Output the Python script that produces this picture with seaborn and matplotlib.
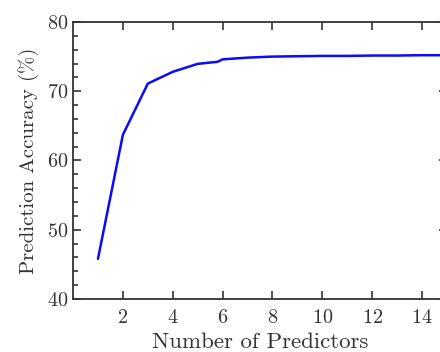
import matplotlib
matplotlib.use("Agg")
import matplotlib.pyplot as plt
import numpy as np
import pandas as pd
import seaborn as sns
from matplotlib.ticker import MultipleLocator

# 데이터
n_predictors = [1, 2, 3, 4, 5, 5.8, 6, 7, 8, 9, 10, 11, 12, 13, 14, 15]
accuracy = [45.8, 63.7, 71.1, 72.8, 73.95, 74.25, 74.6, 74.85, 75.0, 75.05,
            75.1, 75.1, 75.15, 75.15, 75.2, 75.2]

df = pd.DataFrame({"n": n_predictors, "acc": accuracy})

sns.set_style("ticks")
plt.rcParams["font.family"] = ["cmr10", "DejaVu Serif"]
plt.rcParams["mathtext.fontset"] = "cm"
plt.rcParams["axes.formatter.use_mathtext"] = True

fig = plt.figure(figsize=(4.4, 3.52), dpi=100)
# 오른쪽은 원본처럼 잘려 보이도록 figure 밖으로 확장
ax = fig.add_axes([0.166, 0.1506, 0.8495, 0.787])

sns.lineplot(data=df, x="n", y="acc", ax=ax, color="#0a0aff", linewidth=1.8)

ax.set_xlim(0, 15)
ax.set_ylim(40, 80)
ax.set_xticks([2, 4, 6, 8, 10, 12, 14])
ax.yaxis.set_major_locator(MultipleLocator(10))
ax.yaxis.set_minor_locator(MultipleLocator(2))

for s in ax.spines.values():
    s.set_color("#333333")
    s.set_linewidth(1.3)
ax.tick_params(which="both", direction="in", top=True, right=True,
               color="#333333", width=1.2)
ax.tick_params(which="major", length=6, labelsize=14.5, labelcolor="#333333")
ax.tick_params(axis="x", which="major", pad=7)
ax.tick_params(which="minor", length=3.5)

ax.set_xlabel("Number of Predictors", fontsize=16.5, color="#333333", labelpad=4)
ax.set_ylabel("Prediction Accuracy (%)", fontsize=15, color="#333333", labelpad=6)

fig.savefig("out.png", dpi=100)
